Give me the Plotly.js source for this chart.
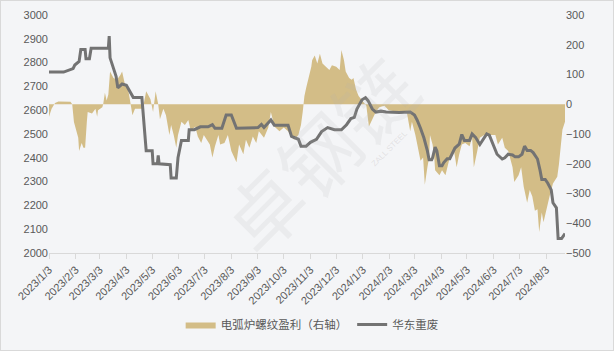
<!DOCTYPE html>
<html>
<head>
<meta charset="utf-8">
<script src="https://cdn.plot.ly/plotly-3.0.1.min.js"></script>
<style>
html,body{margin:0;padding:0;background:#f4f5f7;}
#wrap{position:relative;width:614px;height:351px;}
#chart{width:614px;height:351px;}
#frame{position:absolute;left:0;top:0;width:612px;height:349px;border:1px solid #d9d9d9;pointer-events:none;}
</style>
</head>
<body>
<div id="wrap"><div id="chart"></div><div id="frame"></div></div>
<script>
// 华东重废 (left axis)
const scrapDates = ['2023-01-03','2023-01-20','2023-01-31','2023-02-02','2023-02-07','2023-02-09','2023-02-14','2023-02-15','2023-02-19','2023-02-21','2023-03-13','2023-03-14','2023-03-15','2023-03-19','2023-03-22','2023-03-24','2023-03-29','2023-04-03','2023-04-07','2023-04-11','2023-04-21','2023-04-25','2023-04-26','2023-05-03','2023-05-04','2023-05-09','2023-05-10','2023-05-11','2023-05-24','2023-05-25','2023-05-31','2023-06-02','2023-06-06','2023-06-14','2023-06-15','2023-06-21','2023-06-28','2023-07-07','2023-07-12','2023-07-15','2023-07-23','2023-07-28','2023-08-03','2023-08-09','2023-09-03','2023-09-07','2023-09-10','2023-09-18','2023-09-22','2023-10-08','2023-10-12','2023-10-20','2023-10-23','2023-10-29','2023-11-03','2023-11-10','2023-11-16','2023-11-23','2023-12-01','2023-12-09','2023-12-15','2023-12-20','2023-12-24','2023-12-27','2024-01-02','2024-01-06','2024-01-09','2024-01-14','2024-01-18','2024-01-24','2024-01-30','2024-02-14','2024-02-27','2024-03-03','2024-03-06','2024-03-10','2024-03-14','2024-03-18','2024-03-20','2024-03-23','2024-03-24','2024-03-27','2024-03-29','2024-04-01','2024-04-04','2024-04-06','2024-04-10','2024-04-13','2024-04-16','2024-04-19','2024-04-24','2024-04-27','2024-04-30','2024-05-06','2024-05-09','2024-05-13','2024-05-18','2024-05-23','2024-05-26','2024-05-29','2024-06-02','2024-06-07','2024-06-13','2024-06-16','2024-06-20','2024-06-25','2024-06-28','2024-07-02','2024-07-06','2024-07-09','2024-07-12','2024-07-16','2024-07-19','2024-07-24','2024-07-27','2024-07-29','2024-08-02','2024-08-05','2024-08-09','2024-08-11','2024-08-15','2024-08-17','2024-08-21','2024-08-25'];
const scrapValues = [2760,2760,2775,2790,2805,2855,2855,2816,2816,2860,2860,2911,2820,2775,2742,2694,2710,2705,2680,2653,2653,2490,2430,2430,2375,2375,2410,2375,2371,2315,2315,2400,2473,2473,2518,2518,2530,2530,2539,2524,2524,2580,2580,2524,2527,2540,2527,2559,2537,2537,2490,2478,2449,2449,2465,2478,2510,2527,2518,2518,2539,2565,2570,2605,2644,2653,2640,2605,2592,2596,2592,2590,2592,2580,2559,2524,2483,2429,2392,2392,2400,2445,2429,2367,2367,2380,2396,2396,2420,2441,2457,2498,2473,2473,2500,2486,2456,2483,2500,2495,2462,2415,2395,2400,2415,2412,2404,2404,2415,2449,2431,2431,2422,2395,2347,2309,2309,2293,2265,2211,2190,2061,2061,2082];

// 电弧炉螺纹盈利 (right axis)
const profitDates = ['2023-01-03','2023-01-06','2023-01-10','2023-01-14','2023-01-28','2023-01-30','2023-02-01','2023-02-03','2023-02-06','2023-02-07','2023-02-10','2023-02-12','2023-02-14','2023-02-16','2023-02-17','2023-02-22','2023-02-26','2023-02-28','2023-03-01','2023-03-06','2023-03-07','2023-03-09','2023-03-11','2023-03-13','2023-03-15','2023-03-19','2023-03-23','2023-03-27','2023-03-29','2023-04-01','2023-04-05','2023-04-07','2023-04-10','2023-04-13','2023-04-22','2023-04-26','2023-05-01','2023-05-04','2023-05-07','2023-05-10','2023-05-12','2023-05-16','2023-05-19','2023-05-23','2023-05-25','2023-05-28','2023-05-31','2023-06-02','2023-06-06','2023-06-10','2023-06-14','2023-06-17','2023-06-22','2023-06-25','2023-06-29','2023-07-02','2023-07-06','2023-07-09','2023-07-12','2023-07-15','2023-07-19','2023-07-21','2023-07-26','2023-07-30','2023-08-03','2023-08-09','2023-08-12','2023-08-17','2023-08-20','2023-08-24','2023-08-28','2023-09-01','2023-09-04','2023-09-10','2023-09-15','2023-09-18','2023-09-22','2023-09-28','2023-10-03','2023-10-08','2023-10-12','2023-10-15','2023-10-20','2023-10-23','2023-10-25','2023-10-27','2023-10-29','2023-11-01','2023-11-04','2023-11-05','2023-11-08','2023-11-11','2023-11-14','2023-11-17','2023-11-21','2023-11-25','2023-11-28','2023-12-03','2023-12-07','2023-12-09','2023-12-12','2023-12-14','2023-12-18','2023-12-21','2023-12-23','2023-12-26','2023-12-29','2024-01-02','2024-01-07','2024-01-10','2024-01-14','2024-01-18','2024-01-22','2024-01-28','2024-02-02','2024-02-14','2024-02-23','2024-02-26','2024-02-27','2024-02-29','2024-03-04','2024-03-07','2024-03-10','2024-03-13','2024-03-15','2024-03-18','2024-03-20','2024-03-21','2024-03-24','2024-03-26','2024-03-27','2024-04-01','2024-04-04','2024-04-08','2024-04-10','2024-04-13','2024-04-18','2024-04-21','2024-04-24','2024-04-27','2024-05-01','2024-05-06','2024-05-09','2024-05-11','2024-05-15','2024-05-18','2024-05-23','2024-06-05','2024-06-08','2024-06-13','2024-06-16','2024-06-20','2024-06-25','2024-06-27','2024-07-02','2024-07-05','2024-07-08','2024-07-12','2024-07-15','2024-07-18','2024-07-21','2024-07-24','2024-07-26','2024-07-29','2024-07-31','2024-08-04','2024-08-07','2024-08-11','2024-08-16','2024-08-18','2024-08-21','2024-08-22','2024-08-25'];
const profitValues = [-42,-15,4,9,8,0,-60,-85,-113,-157,-130,-146,-146,-59,-26,-31,-15,-42,-20,-10,0,39,13,33,110,88,82,98,110,71,50,17,-37,-15,-15,44,17,-26,44,0,-50,-15,-37,-103,-70,-103,-146,-103,-59,-70,-53,-91,-75,-108,-130,-103,-124,-135,-179,-141,-103,-135,-130,-103,-157,-195,-135,-168,-119,-146,-108,-130,-91,-113,-78,-26,-75,-91,-78,-91,-108,-119,-103,-70,-26,28,55,90,126,148,164,137,170,137,126,115,131,126,115,182,148,110,88,82,88,50,28,12,-5,-75,-50,-26,-10,-5,-20,-26,-26,-70,-91,-59,-103,-146,-190,-179,-271,-212,-179,-103,-135,-179,-222,-239,-222,-239,-212,-179,-157,-212,-168,-135,-130,-141,-113,-212,-157,-113,-103,-103,-135,-113,-146,-157,-212,-261,-239,-212,-277,-331,-288,-310,-358,-353,-429,-364,-397,-342,-310,-266,-244,-201,-130,-86,-59];

const tickDates = ['2023-01-03','2023-02-03','2023-03-03','2023-04-03','2023-05-03','2023-06-03','2023-07-03','2023-08-03','2023-09-03','2023-10-03','2023-11-03','2023-12-03','2024-01-03','2024-02-03','2024-03-03','2024-04-03','2024-05-03','2024-06-03','2024-07-03','2024-08-03'];
const tickLabels = ['2023/1/3','2023/2/3','2023/3/3','2023/4/3','2023/5/3','2023/6/3','2023/7/3','2023/8/3','2023/9/3','2023/10/3','2023/11/3','2023/12/3','2024/1/3','2024/2/3','2024/3/3','2024/4/3','2024/5/3','2024/6/3','2024/7/3','2024/8/3'];

const seriesNames = ['电弧炉螺纹盈利（右轴）','华东重废'];

const tickFont = {family:'"Liberation Sans", Arial, sans-serif', size:11, color:'#595959'};

// Area on the base (right-side) axis, line on the overlaying (left-side) axis so the line is drawn on top.
const traces = [
  {
    x: profitDates, y: profitValues, name: seriesNames[0], yaxis: 'y',
    type: 'scatter', mode: 'lines', fill: 'tozeroy',
    fillcolor: '#d3bd87', line: {color: '#d3bd87', width: 0}
  },
  {
    x: scrapDates, y: scrapValues, name: seriesNames[1], yaxis: 'y2',
    type: 'scatter', mode: 'lines', line: {color: '#737373', width: 3}
  }
];

const layout = {
  width: 614, height: 351,
  margin: {l: 49, r: 49, t: 15, b: 91},
  paper_bgcolor: '#f4f5f7', plot_bgcolor: '#f4f5f7',
  showlegend: true,
  legend: {orientation: 'h', x: 0.51, xanchor: 'center', y: -0.3, yanchor: 'middle',
    font: {family: '"Noto Sans CJK SC", sans-serif', size: 11.5, color: '#595959'},
    bgcolor: 'rgba(0,0,0,0)', traceorder: 'normal', itemwidth: 30},
  xaxis: {
    type: 'date', range: ['2023-01-03', '2024-08-25'],
    tickmode: 'array', tickvals: tickDates, ticktext: tickLabels, tickangle: -45,
    tickfont: tickFont, showgrid: false, zeroline: false,
    showline: true, linecolor: '#d9d9d9', linewidth: 1,
    ticks: 'outside', ticklen: 5, tickcolor: '#d9d9d9'
  },
  yaxis: {
    range: [-500, 300], dtick: 100, side: 'right', tickfont: tickFont,
    showgrid: false, zeroline: false, showline: false, ticks: ''
  },
  yaxis2: {
    range: [2000, 3000], dtick: 100, overlaying: 'y', side: 'left', tickfont: tickFont,
    showgrid: false, zeroline: false, showline: false, ticks: ''
  },
  annotations: [
    {xref: 'paper', yref: 'paper', x: 0.52, y: 0.42, text: '卓钢链', showarrow: false, textangle: -45,
     font: {family: '"Noto Sans CJK SC", sans-serif', size: 78, color: 'rgba(180,180,180,0.14)'}},
    {xref: 'paper', yref: 'paper', x: 0.66, y: 0.44, text: 'ZALL STEEL', showarrow: false, textangle: -45,
     font: {family: '"Liberation Sans", sans-serif', size: 8, color: 'rgba(180,180,180,0.3)'}}
  ]
};

Plotly.newPlot('chart', traces, layout, {displayModeBar: false, staticPlot: true});
</script>
</body>
</html>
